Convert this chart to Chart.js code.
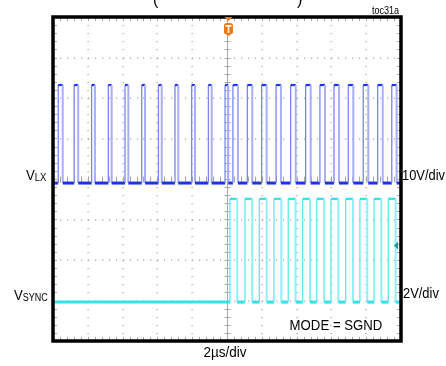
<!DOCTYPE html>
<html>
<head>
<meta charset="utf-8">
<script src="https://cdn.jsdelivr.net/npm/chart.js@4.4.1/dist/chart.umd.min.js"></script>
<style>
  html, body { margin: 0; padding: 0; background: #fff; }
  canvas { display: block; }
</style>
</head>
<body>
<canvas id="scope" width="446" height="366"></canvas>
<script>
// time in us (0 = trigger point), levels in volts
const vlxRise = [-9.70, -8.78, -7.78, -6.82, -5.86, -4.90, -3.94, -2.99, -2.03, -1.07, -0.11,
                 0.34, 1.17, 1.99, 2.82, 3.66, 4.52, 5.34, 6.15, 6.97, 7.83, 8.66, 9.47];
const vlxFall = [-9.44, -8.55, -7.59, -6.63, -5.67, -4.71, -3.75, -2.80, -1.84, -0.88, 0.07,
                 0.63, 1.45, 2.28, 3.10, 3.95, 4.81, 5.63, 6.44, 7.26, 8.12, 8.95, 9.75];
const vlxLow = 0;
const vlxHigh = 24.2;

const syncRise = [0.17, 1.03, 1.86, 2.70, 3.52, 4.35, 5.16, 5.98, 6.82, 7.64, 8.45, 9.27];
const syncFall = [0.59, 1.45, 2.28, 3.12, 3.94, 4.77, 5.58, 6.40, 7.24, 8.06, 8.87, 9.69];
const syncLow = 0;
const syncHigh = 5.1;
const syncTrigLevel = 2.8;

const timeDivs = [-10, -8, -6, -4, -2, 0, 2, 4, 6, 8, 10];
const vertDivs = [-4, -3, -2, -1, 0, 1, 2, 3, 4];

const FONT = '"Liberation Sans", Arial, sans-serif';

function edges(rise, fall, low, high) {
  const pts = [{ x: -10, y: low }];
  rise.forEach((r, i) => {
    pts.push({ x: r, y: low }, { x: r, y: high }, { x: fall[i], y: high }, { x: fall[i], y: low });
  });
  pts.push({ x: 10, y: low });
  return pts;
}

function edgeStyle(dark, riseCol, fallCol, low) {
  return {
    borderColor: ctx => {
      if (ctx.p0.parsed.x !== ctx.p1.parsed.x) return dark;
      return ctx.p1.parsed.y > ctx.p0.parsed.y ? riseCol : fallCol;
    },
    borderWidth: ctx => {
      if (ctx.p0.parsed.x === ctx.p1.parsed.x) return ctx.p1.parsed.y > ctx.p0.parsed.y ? 1.3 : 2;
      return ctx.p0.parsed.y === low ? 3 : 2.2;
    }
  };
}

function label(ctx, text, x, y, size, align, sx) {
  ctx.save();
  ctx.font = size + 'px ' + FONT;
  ctx.textBaseline = 'alphabetic';
  const w = ctx.measureText(text).width * sx;
  let left = x;
  if (align === 'right') left = x - w;
  if (align === 'center') left = x - w / 2;
  ctx.translate(left, y);
  ctx.scale(sx, 1);
  ctx.textAlign = 'left';
  ctx.fillText(text, 0, 0);
  ctx.restore();
  return left + w;
}

const graticule = {
  id: 'graticule',
  beforeDatasetsDraw(chart) {
    const { ctx, chartArea: a, scales } = chart;
    const xs = scales.x, ys = scales.div;
    ctx.save();
    ctx.fillStyle = '#a0a0a0';
    const dx = (xs.getPixelForValue(2) - xs.getPixelForValue(0)) / 5;
    const dy = (ys.getPixelForValue(0) - ys.getPixelForValue(1)) / 5;
    // dotted major lines
    timeDivs.forEach(t => {
      const px = xs.getPixelForValue(t);
      for (let y = a.top; y <= a.bottom + 0.5; y += dy) ctx.fillRect(Math.round(px) - 0.5, Math.round(y), 1.2, 1.2);
    });
    vertDivs.forEach(v => {
      const py = ys.getPixelForValue(v);
      for (let x = a.left; x <= a.right + 0.5; x += dx) ctx.fillRect(Math.round(x), Math.round(py) - 0.5, 1.2, 1.2);
    });
    // centre lines with minor ticks
    ctx.strokeStyle = '#a8a8a8';
    ctx.lineWidth = 1;
    const cx = Math.round(xs.getPixelForValue(0)) + 0.5;
    const cy = Math.round(ys.getPixelForValue(0)) + 0.5;
    ctx.beginPath();
    ctx.moveTo(cx, a.top); ctx.lineTo(cx, a.bottom);
    for (let y = a.top; y <= a.bottom; y += dy) {
      ctx.moveTo(cx - 3, Math.round(y) + 0.5); ctx.lineTo(cx + 3, Math.round(y) + 0.5);
    }
    for (let x = a.left; x <= a.right; x += dx) {
      ctx.moveTo(Math.round(x) + 0.5, cy - 3); ctx.lineTo(Math.round(x) + 0.5, cy + 3);
      // edge ticks
      ctx.moveTo(Math.round(x) + 0.5, a.top); ctx.lineTo(Math.round(x) + 0.5, a.top + 4);
      ctx.moveTo(Math.round(x) + 0.5, a.bottom); ctx.lineTo(Math.round(x) + 0.5, a.bottom - 4);
    }
    for (let y = a.top; y <= a.bottom; y += dy) {
      ctx.moveTo(a.left, Math.round(y) + 0.5); ctx.lineTo(a.left + 4, Math.round(y) + 0.5);
      ctx.moveTo(a.right, Math.round(y) + 0.5); ctx.lineTo(a.right - 4, Math.round(y) + 0.5);
    }
    ctx.stroke();
    ctx.restore();
  }
};

const overlay = {
  id: 'overlay',
  afterDatasetsDraw(chart) {
    const { ctx, chartArea: a, scales } = chart;
    ctx.save();
    // frame
    ctx.strokeStyle = '#000';
    ctx.lineWidth = 3.5;
    ctx.strokeRect(a.left, a.top, a.right - a.left, a.bottom - a.top);

    // trigger position marker
    const tx = scales.x.getPixelForValue(0) + 1.5;
    ctx.fillStyle = '#f07818';
    ctx.beginPath();
    ctx.moveTo(tx - 4, a.top); ctx.lineTo(tx + 4, a.top); ctx.lineTo(tx, a.top + 4);
    ctx.fill();
    ctx.beginPath();
    ctx.moveTo(tx - 4.5, a.top + 9);
    ctx.quadraticCurveTo(tx - 4.5, a.top + 6, tx - 1.5, a.top + 6);
    ctx.lineTo(tx + 1.5, a.top + 6);
    ctx.quadraticCurveTo(tx + 4.5, a.top + 6, tx + 4.5, a.top + 9);
    ctx.lineTo(tx + 4.5, a.top + 16);
    ctx.lineTo(tx, a.top + 19);
    ctx.lineTo(tx - 4.5, a.top + 16);
    ctx.closePath();
    ctx.fill();
    ctx.fillStyle = '#fff';
    ctx.fillRect(tx - 3, a.top + 8, 6, 1.6);
    ctx.fillRect(tx - 0.8, a.top + 8, 1.6, 8);

    // VSYNC trigger level marker
    const ly = scales.ySync.getPixelForValue(syncTrigLevel);
    ctx.fillStyle = '#1a9c9c';
    ctx.beginPath();
    ctx.moveTo(a.right - 3, ly - 4); ctx.lineTo(a.right - 3, ly + 4); ctx.lineTo(a.right - 7, ly);
    ctx.fill();

    // texts
    ctx.fillStyle = '#000';
    label(ctx, '(', 153, 5, 16, 'left', 1);
    label(ctx, ')', 297, 5, 16, 'left', 1);
    label(ctx, 'toc31a', a.right - 2, 14, 10, 'right', 0.9);
    let e = label(ctx, 'V', 26, 180, 15, 'left', 0.88);
    label(ctx, 'LX', e, 181, 10, 'left', 0.95);
    e = label(ctx, 'V', 14, 300, 15, 'left', 0.88);
    label(ctx, 'SYNC', e, 301, 10, 'left', 0.9);
    label(ctx, '10V/div', a.right + 1, 180, 15, 'left', 0.86);
    label(ctx, '2V/div', a.right + 2, 298, 15, 'left', 0.86);
    label(ctx, 'MODE = SGND', 336, 330, 15, 'center', 0.88);
    label(ctx, '2\u00b5s/div', 225, 357, 15, 'center', 0.9);
    ctx.restore();
  }
};

new Chart(document.getElementById('scope'), {
  type: 'line',
  data: {
    datasets: [
      {
        label: 'VSYNC',
        data: edges(syncRise, syncFall, syncLow, syncHigh),
        yAxisID: 'ySync',
        pointRadius: 0,
        tension: 0,
        segment: edgeStyle('#2fe3e8', '#5ceaf2', '#8ef0f6', syncLow)
      },
      {
        label: 'VLX',
        data: edges(vlxRise, vlxFall, vlxLow, vlxHigh),
        yAxisID: 'yLx',
        pointRadius: 0,
        tension: 0,
        segment: edgeStyle('#1c34e4', '#7a84f4', '#a8aef8', vlxLow)
      }
    ]
  },
  options: {
    responsive: false,
    animation: false,
    layout: { padding: { left: 53, right: 45, top: 17, bottom: 25 } },
    plugins: { legend: { display: false }, tooltip: { enabled: false }, title: { display: false } },
    scales: {
      x: { type: 'linear', min: -10, max: 10, display: false },
      div: { type: 'linear', axis: 'y', min: -4, max: 4, display: false },
      yLx: { type: 'linear', axis: 'y', min: -39, max: 41, display: false },
      ySync: { type: 'linear', axis: 'y', min: -1.92, max: 14.08, display: false }
    }
  },
  plugins: [graticule, overlay]
});
</script>
</body>
</html>
